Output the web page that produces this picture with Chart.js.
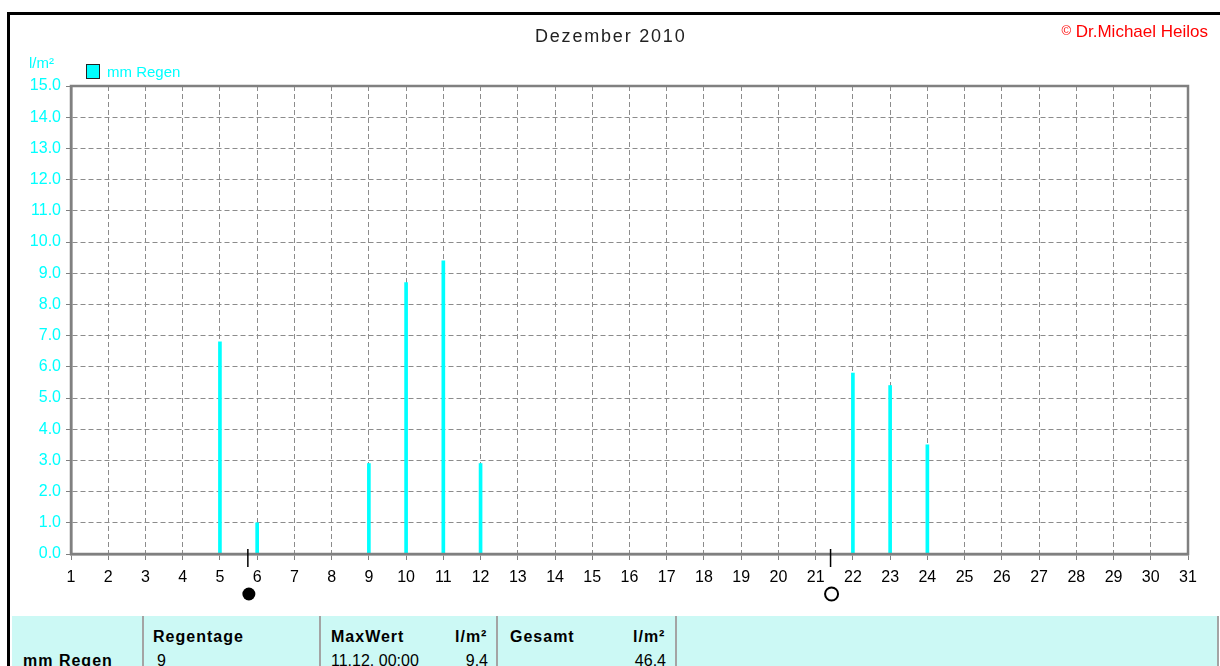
<!DOCTYPE html>
<html>
<head>
<meta charset="utf-8">
<script src="https://cdn.jsdelivr.net/npm/chart.js@4/dist/chart.umd.min.js"></script>
<style>
  body { margin: 0; background: #fff; }
  #wrap { position: relative; width: 1220px; height: 666px; overflow: hidden; background: #fff; font-family: "Liberation Sans", Arial, sans-serif; }
  .t { position: absolute; white-space: nowrap; line-height: 1; }
  .frame { position: absolute; left: 7px; top: 12px; width: 1300px; height: 700px; border-top: 3px solid #000; border-left: 3px solid #000; }
  .tbl { position: absolute; left: 12px; top: 616px; width: 1206px; height: 60px; background: #ccf9f5; }
  .sep { position: absolute; top: 616px; width: 2px; height: 60px; background: #a4a4a4; }
  .b { font-weight: bold; font-size: 16px; letter-spacing: 1px; color: #000; }
  .r { font-size: 16px; color: #000; }
</style>
</head>
<body>
<div id="wrap">
  <div class="frame"></div>
  <div class="tbl"></div>
  <div class="sep" style="left:142px"></div>
  <div class="sep" style="left:319px"></div>
  <div class="sep" style="left:496px"></div>
  <div class="sep" style="left:675px"></div>
  <div class="sep" style="left:1217px"></div>

  <canvas id="regenChart" width="1220" height="616" style="position:absolute;left:0;top:0"></canvas>

  <div class="t" style="left:535px;top:27px;font-size:18px;letter-spacing:1.8px;color:#222">Dezember 2010</div>
  <div class="t" style="right:12px;top:23px;font-size:17px;color:#ff0000;font-family:'Liberation Sans Narrow','Liberation Sans',Arial,sans-serif"><span style="font-size:13px;vertical-align:2px">©</span> Dr.Michael Heilos</div>
  <div class="t" style="left:29px;top:55px;font-size:15px;color:#00ffff">l/m²</div>
  <div class="t" style="left:86px;top:64px;width:12px;height:13px;background:#00ffff;border:1.5px solid #222"></div>
  <div class="t" style="left:107px;top:64px;font-size:15px;color:#00ffff">mm Regen</div>

  <div class="t b" style="left:153px;top:629px">Regentage</div>
  <div class="t b" style="left:331px;top:629px">MaxWert</div>
  <div class="t b" style="left:455px;top:629px">l/m²</div>
  <div class="t b" style="left:510px;top:629px">Gesamt</div>
  <div class="t b" style="left:633px;top:629px">l/m²</div>
  <div class="t b" style="left:23px;top:653px">mm Regen</div>
  <div class="t r" style="left:157px;top:653px">9</div>
  <div class="t r" style="left:331px;top:653px">11.12. 00:00</div>
  <div class="t r" style="left:440px;width:48px;text-align:right;top:653px">9.4</div>
  <div class="t r" style="left:610px;width:56px;text-align:right;top:653px">46.4</div>
</div>

<script>
// Niederschlag Dezember 2010 (Tage mit Regen)
const regenTage = [5, 6, 9, 10, 11, 12, 22, 23, 24];
const regenMm = [6.8, 1.0, 2.9, 8.7, 9.4, 2.9, 5.8, 5.4, 3.5];

// Mondphasen (Tag im Monat, Art)
const mondTage = [5.75, 21.4];
const mondPhase = ['neu', 'voll'];

const schrift = '"Liberation Sans", Arial, sans-serif';
const grau = '#808080';

// Rahmen um die Zeichenfläche
const rahmen = {
    id: 'rahmen',
    afterDatasetsDraw(chart) {
        const a = chart.chartArea;
        const c = chart.ctx;
        c.save();
        c.strokeStyle = grau;
        c.lineWidth = 2.5;
        c.strokeRect(a.left, a.top, a.right - a.left, a.bottom - a.top);
        c.restore();
    }
};

// Mondsymbole unter der x-Achse
const mond = {
    id: 'mond',
    afterDraw(chart) {
        const c = chart.ctx;
        const y0 = chart.chartArea.bottom;
        c.save();
        mondTage.forEach(function(d, i) {
            const x = chart.scales.x.getPixelForValue(d);
            c.strokeStyle = '#000';
            c.lineWidth = 1.5;
            c.beginPath();
            c.moveTo(x, y0 - 5);
            c.lineTo(x, y0 + 13);
            c.stroke();
            c.beginPath();
            c.arc(x + 1, y0 + 40, 6.5, 0, Math.PI * 2);
            if (mondPhase[i] == 'neu') {
                c.fillStyle = '#000';
                c.fill();
            } else {
                c.lineWidth = 2;
                c.stroke();
            }
        });
        c.restore();
    }
};

let ctx = document.getElementById('regenChart').getContext('2d');
let chart = new Chart(ctx, {
    type: 'bar',
    data: {
        datasets: [{
            label: 'mm Regen',
            data: regenTage.map(function(d, i) { return { x: d, y: regenMm[i] }; }),
            backgroundColor: '#00ffff',
            barThickness: 3,
        }]
    },
    options: {
        responsive: false,
        animation: false,
        layout: { padding: { left: 0, top: 86, right: 32, bottom: 0 } },
        plugins: {
            legend: { display: false },
            tooltip: { enabled: false },
            title: { display: false }
        },
        scales: {
            x: {
                type: 'linear',
                min: 1,
                max: 31,
                offset: false,
                ticks: { stepSize: 1, autoSkip: false, maxRotation: 0, color: '#000', padding: 8, font: { family: schrift, size: 16 } },
                grid: { offset: false, color: '#8c8c8c', tickColor: grau, tickLength: 6, lineWidth: 1 },
                border: { dash: [5, 3], color: grau, width: 2.5 },
                afterFit: function(s) { s.height = 62; }
            },
            y: {
                min: 0,
                max: 15,
                ticks: {
                    stepSize: 1,
                    color: '#00ffff',
                    padding: 5,
                    font: { family: schrift, size: 16 },
                    callback: function(v) { return v.toFixed(1); }
                },
                grid: { color: '#8c8c8c', tickColor: grau, tickLength: 5, lineWidth: 1 },
                border: { dash: [5, 3], color: grau, width: 2.5 },
                afterFit: function(s) { s.width = 71; }
            }
        }
    },
    plugins: [rahmen, mond]
});
</script>
</body>
</html>
